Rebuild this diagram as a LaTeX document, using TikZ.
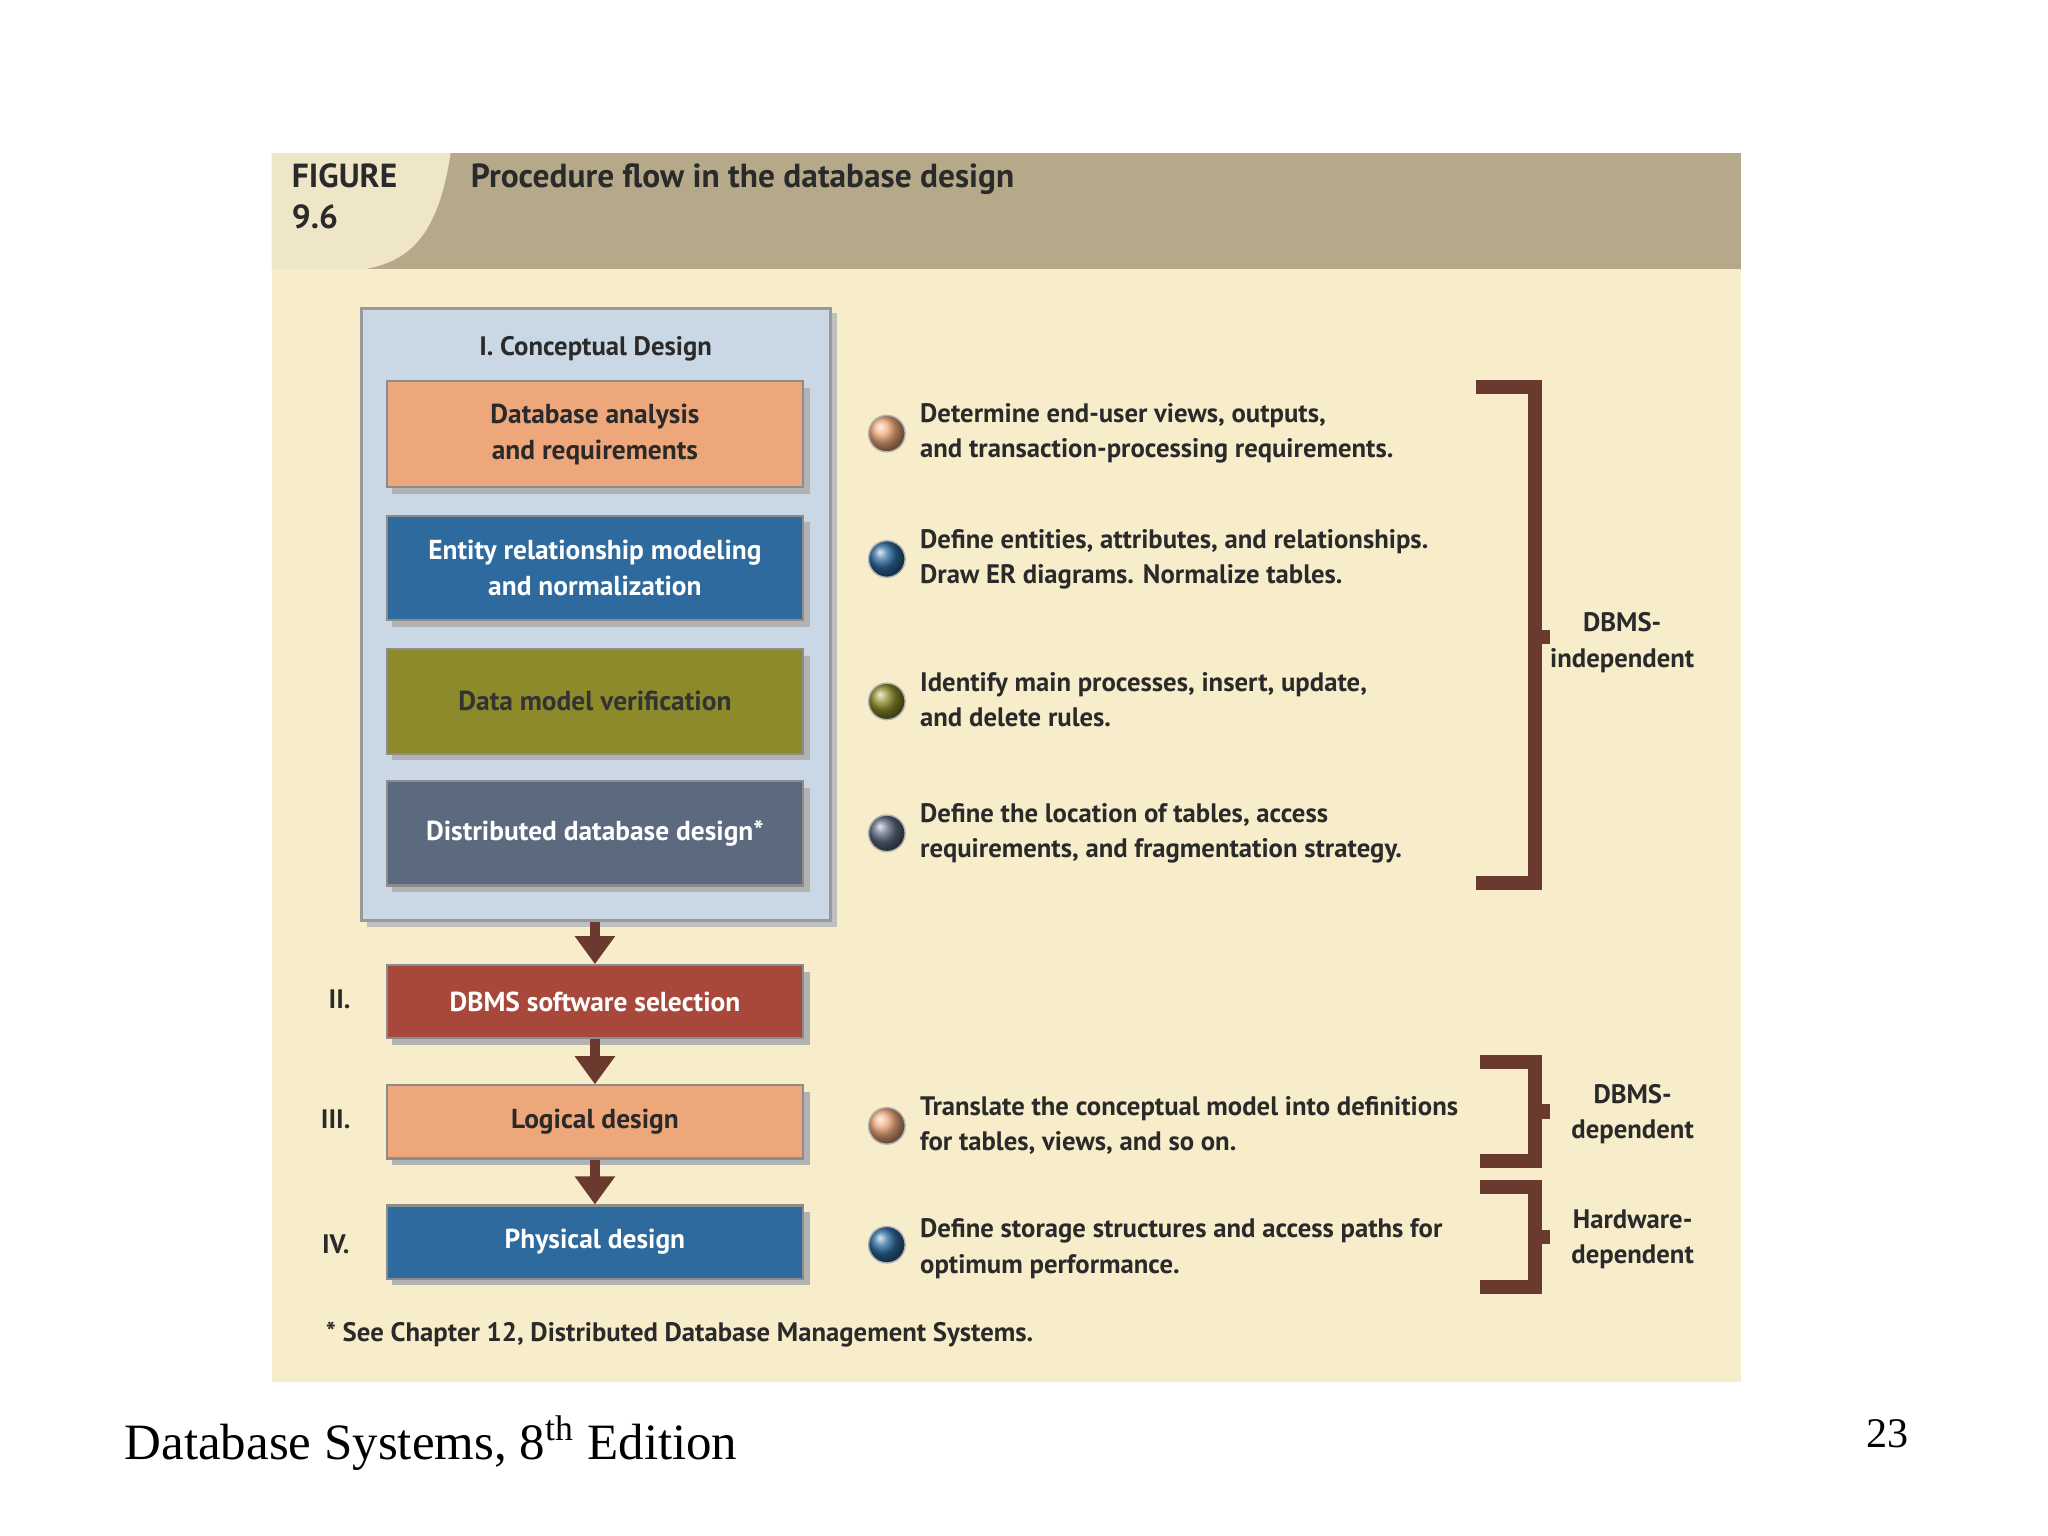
\documentclass[tikz,border=0pt]{standalone}
\usepackage{fontspec}
\setmainfont{PT Sans}
\newfontfamily\serifft{Liberation Serif}
\usetikzlibrary{arrows.meta}
\definecolor{cream}{HTML}{F8EDCB}
\definecolor{tan}{HTML}{B5A98A}
\definecolor{corner}{HTML}{EFE6C8}
\definecolor{lblue}{HTML}{C9D8E4}
\definecolor{org}{HTML}{EDA77A}
\definecolor{blu}{HTML}{2E6A9E}
\definecolor{oli}{HTML}{8C8A2A}
\definecolor{sla}{HTML}{5C6A80}
\definecolor{redb}{HTML}{A8483A}
\definecolor{brn}{HTML}{6B3A2E}
\definecolor{txt}{HTML}{2A2A2A}
\newlength{\pxu}\setlength{\pxu}{0.013061cm}
\tikzset{
 stepbox/.style={draw=black!45,line width=0.6pt,minimum width=319\pxu,align=center,font=\bfseries\fontsize{7.8}{10.2}\selectfont},
 bul/.style={circle,minimum size=28\pxu,inner sep=0pt,draw=black!30},
 desc/.style={anchor=west,align=left,font=\bfseries\fontsize{7.6}{10}\selectfont,text=txt},
 lab/.style={align=center,font=\bfseries\fontsize{7.6}{10}\selectfont,text=txt},
 arr/.style={brn,line width=3pt,-{Triangle[length=8pt,width=11pt]}},
 brk/.style={brn,line width=4pt},
}
\begin{document}
\begin{tikzpicture}[x=0.013061cm,y=-0.013061cm]
\useasboundingbox (0,0) rectangle (1568,1176);
\fill[white] (0,0) rectangle (1568,1176);
\fill[cream] (208,117) rectangle (1333,1058);
\fill[tan] (208,117) rectangle (1333,206);
\fill[corner] (208,117) -- (345,117) .. controls (335,185) and (310,200) .. (280,206) -- (208,206) -- cycle;
\node[anchor=north west,align=left,font=\bfseries\fontsize{9.5}{11.5}\selectfont,text=txt,inner sep=0pt] (fig) at (223,125) {FIGURE\\9.6};
\node[anchor=west,font=\bfseries\fontsize{9.5}{11.5}\selectfont,text=txt,inner sep=0pt] (ttl) at (360,137) {Procedure flow in the database design};
% conceptual
\fill[black!25] (281,240) rectangle (641,710);
\node[draw=black!40,fill=lblue,line width=0.8pt,minimum width=359\pxu,minimum height=469\pxu,inner sep=0pt] (cd) at (456.5,470.5) {};
\node[lab] (cdt) at (456,267) {I. Conceptual Design};
\newcommand{\stepb}[6]{% name, y1, y2, color, textcolor, text
 \fill[black!30] (300,#2+5) rectangle (620,#3+5);
 \node[stepbox,fill=#4,text=#5,minimum height=#3\pxu-#2\pxu] (#1) at (455.5,#2/2+#3/2) {#6};}
\stepb{a}{292}{373}{org}{txt}{Database analysis\\and requirements}
\stepb{b}{395}{475}{blu}{white}{Entity relationship modeling\\and normalization}
\stepb{c}{497}{577}{oli}{black!80}{Data model verification}
\stepb{d}{598}{678}{sla}{white}{Distributed database design*}
\stepb{e}{739}{795}{redb}{white}{DBMS software selection}
\stepb{f}{831}{887}{org}{txt}{Logical design}
\stepb{g}{923}{979}{blu}{white}{Physical design}
\draw[arr] (cd.south -| e.north) -- (e.north);
\draw[arr] (e.south) -- (f.north);
\draw[arr] (f.south) -- (g.north);
\node[lab] (r2) at (260,765) {II.};
\node[lab] (r3) at (257,857) {III.};
\node[lab] (r4) at (257,953) {IV.};
% bullets
\newcommand{\bl}[5]{\node[bul,ball color=#2] (#1) at (679,#3) {};
 \node[desc] (#1t) at (695,#4) {#5};}
\bl{p1}{org}{332}{332}{Determine end-user views, outputs,\\and transaction-processing requirements.}
\bl{p2}{blu}{428}{428}{Define entities, attributes, and relationships.\\Draw ER diagrams. Normalize tables.}
\bl{p3}{oli}{537}{536}{Identify main processes, insert, update,\\and delete rules.}
\bl{p4}{sla}{638}{638}{Define the location of tables, access\\requirements, and fragmentation strategy.}
\bl{p5}{org}{862}{862}{Translate the conceptual model into definitions\\for tables, views, and so on.}
\bl{p6}{blu}{953}{956}{Define storage structures and access paths for\\optimum performance.}
% brackets
\draw[brk] (1130,296) -- (1175,296) -- (1175,676) -- (1130,676);
\draw[brk] (1175,488) -- (1187,488);
\draw[brk] (1133,813) -- (1175,813) -- (1175,889) -- (1133,889);
\draw[brk] (1175,851) -- (1187,851);
\draw[brk] (1133,909) -- (1175,909) -- (1175,985) -- (1133,985);
\draw[brk] (1175,947) -- (1187,947);
\node[lab] (l1) at (1242,492) {DBMS-\\independent};
\node[lab] (l2) at (1250,853) {DBMS-\\dependent};
\node[lab] (l3) at (1250,949) {Hardware-\\dependent};
\node[desc] (fn) at (240,1022) {* See Chapter 12, Distributed Database Management Systems.};
\node[anchor=west,font=\serifft\fontsize{14.5}{17}\selectfont,inner sep=0pt] (ft) at (95,1105) {Database Systems, 8\textsuperscript{th} Edition};
\node[font=\serifft\fontsize{12}{14}\selectfont,inner sep=0pt] (pg) at (1445,1098) {23};
\end{tikzpicture}
\end{document}
